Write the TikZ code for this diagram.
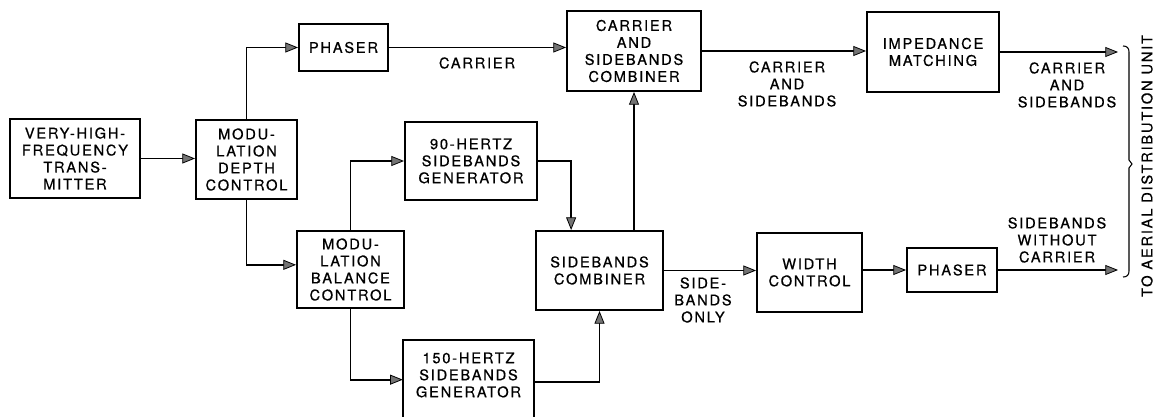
\documentclass[tikz,border=0pt]{standalone}
\usepackage{fontspec}
\setmainfont[LetterSpace=12,FakeBold=0.6]{TeX Gyre Heros}
\usetikzlibrary{arrows.meta,calc}
\begin{document}
\begin{tikzpicture}[x=0.75pt,y=-0.75pt,
  every node/.style={font=\fontsize{11pt}{12.75pt}\selectfont, align=center, inner sep=0pt},
  blk/.style args={#1x#2}{draw, line width=1.5pt, minimum width=#1*0.75pt, minimum height=#2*0.75pt},
  outline/.style={line width=1.5pt},
  arr/.style={line width=1.3pt, -{Triangle[length=9.5pt,width=7.5pt,fill=black!55,line width=0.6pt]}},
  bracestyle/.style={line width=0.8pt}]
\useasboundingbox[fill=white] (0,0) rectangle (1156,417);

\node[blk=130x79] (vhf) at (75,158.5) {VERY-HIGH-\\FREQUENCY\\TRANS-\\MITTER};
\node[blk=101x79] (mdc) at (246.5,159.5) {MODU-\\LATION\\DEPTH\\CONTROL};
\node[blk=89x47] (ph1) at (343.5,47.5) {PHASER};
\node[blk=134x80] (csc) at (634,51) {CARRIER\\AND\\SIDEBANDS\\COMBINER};
\node[blk=132x80] (imp) at (933,52) {IMPEDANCE\\MATCHING};
\node[blk=132x78] (g90) at (471,161) {90-HERTZ\\SIDEBANDS\\GENERATOR};
\node[blk=107x77] (mbc) at (350.5,269.5) {MODU-\\LATION\\BALANCE\\CONTROL};
\node[minimum width=131*0.75pt, minimum height=70*0.75pt] (g150) at (468.5,375) {150-HERTZ\\SIDEBANDS\\GENERATOR};
\draw[outline] (g150.north west |- 0,418) -- (g150.north west) -- (g150.north east) -- (g150.north east |- 0,418);
\node[blk=127x79] (sc) at (599.5,270.5) {SIDEBANDS\\COMBINER};
\node[blk=105x79] (wc) at (809.5,272.5) {WIDTH\\CONTROL};
\node[blk=90x44] (ph2) at (952,270) {PHASER};

\node (lc) at (477,63) {CARRIER};
\node (lcs1) at (787,84) {CARRIER\\AND\\SIDEBANDS};
\node (lcs2) at (1067,85) {CARRIER\\AND\\SIDEBANDS};
\node (lso) at (703,300) {SIDE-\\BANDS\\ONLY};
\node (lswc) at (1057,240) {SIDEBANDS\\WITHOUT\\CARRIER};
\node[rotate=90] (aer) at (1147,166) {TO AERIAL DISTRIBUTION UNIT};

\coordinate (o1) at (1118,52);
\coordinate (o2) at (1118,270);

\draw[arr] (vhf.east) -- (vhf.east -| mdc.west);
\draw[arr] (mdc.north) |- (ph1.west);
\draw[arr] (mdc.south) |- ([yshift=3.5pt]mbc.west);
\draw[arr] (ph1.east) -- (ph1.east -| csc.west);
\draw[arr] (mbc.north) |- (g90.west);
\draw[arr] (mbc.south) |- ([yshift=-3.5pt]g150.west);
\draw[arr] (g90.east) -| ($(sc.north west)!0.28!(sc.north east)$);
\draw[arr] ([yshift=-5pt]g150.east) -| (sc.south);
\draw[arr] (csc.south |- sc.north) -- (csc.south);
\draw[arr] (csc.east) -- (csc.east -| imp.west);
\draw[arr] (sc.east) -- (sc.east -| wc.west);
\draw[arr] (ph2.west -| wc.east) -- (ph2.west);
\draw[arr] (imp.east) -- (o1);
\draw[arr] (ph2.east) -- (o2);

\draw[bracestyle] (1123,46) .. controls (1127,46) and (1129,48) .. (1129,52) -- (1129,160) -- (1132,164) -- (1129,168) -- (1129,271) .. controls (1129,275) and (1127,277) .. (1123,277);
\end{tikzpicture}
\end{document}
